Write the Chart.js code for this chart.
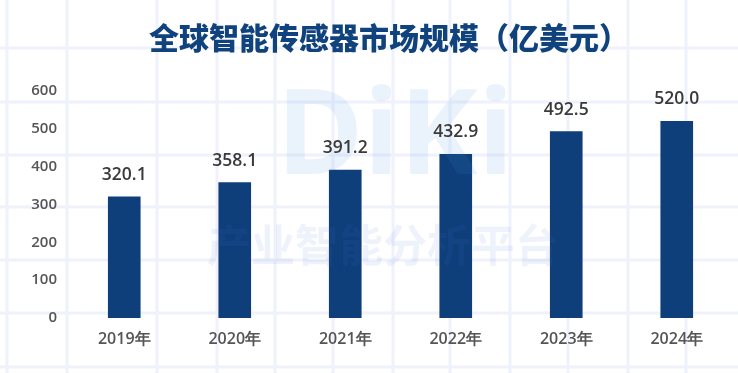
<!DOCTYPE html>
<html lang="zh">
<head>
<meta charset="utf-8">
<script src="https://cdn.jsdelivr.net/npm/chart.js@4.4.0/dist/chart.umd.min.js"></script>
<style>
    html, body { margin: 0; padding: 0; background: #ffffff; }
    #wrap { position: relative; width: 738px; height: 373px; }
</style>
</head>
<body>
<div id="wrap"><canvas id="chart" width="738" height="373"></canvas></div>
<script>
// Chart data
const years = ['2019年', '2020年', '2021年', '2022年', '2023年', '2024年'];
const marketSize = [320.1, 358.1, 391.2, 432.9, 492.5, 520.0];
const yTicks = [0, 100, 200, 300, 400, 500, 600];
const chartTitle = '全球智能传感器市场规模（亿美元）';

const barColor = '#0f3f7a';
const cjkFont = '"Noto Sans CJK SC", "Noto Sans", sans-serif';
const numFont = '"Open Sans", "Noto Sans", sans-serif';

// background paper grid (decoration only)
const gridX = [7, 67, 157, 217, 275, 333, 393, 450, 510, 568, 628, 686];
const gridY = [48, 102, 155, 207, 260, 313, 367];

const backgroundPlugin = {
    id: 'paperGrid',
    beforeDraw(chart) {
        const ctx = chart.ctx;
        ctx.save();
        ctx.fillStyle = '#ffffff';
        ctx.fillRect(0, 0, chart.width, chart.height);
        ctx.strokeStyle = '#f0f2fb';
        ctx.lineWidth = 3;
        gridX.forEach(x => {
            ctx.beginPath();
            ctx.moveTo(x, 0);
            ctx.lineTo(x, chart.height);
            ctx.stroke();
        });
        gridY.forEach(y => {
            ctx.beginPath();
            ctx.moveTo(0, y);
            ctx.lineTo(chart.width, y);
            ctx.stroke();
        });
        ctx.restore();
    }
};

const titlePlugin = {
    id: 'bigTitle',
    afterDraw(chart) {
        const ctx = chart.ctx;
        ctx.save();
        ctx.font = '900 30px ' + cjkFont;
        ctx.fillStyle = '#10427d';
        ctx.textAlign = 'center';
        ctx.textBaseline = 'middle';
        ctx.fillText(chartTitle, 389, 38);
        ctx.restore();
    }
};

const valueLabelPlugin = {
    id: 'valueLabels',
    afterDatasetsDraw(chart) {
        const ctx = chart.ctx;
        const meta = chart.getDatasetMeta(0);
        ctx.save();
        ctx.font = '600 17.5px ' + numFont;
        ctx.fillStyle = '#3a3a3a';
        ctx.textAlign = 'center';
        ctx.textBaseline = 'middle';
        meta.data.forEach((bar, i) => {
            ctx.fillText(marketSize[i].toFixed(1), bar.x, bar.y - 22);
        });
        ctx.restore();
    }
};

const watermarkPlugin = {
    id: 'watermark',
    afterDatasetsDraw(chart) {
        const ctx = chart.ctx;
        ctx.save();
        ctx.globalAlpha = 0.11;
        ctx.fillStyle = '#3f8fe0';
        ctx.textAlign = 'center';
        ctx.textBaseline = 'middle';
        ctx.font = 'bold 118px ' + numFont;
        ctx.fillText('DiKi', 395, 140);
        ctx.globalAlpha = 0.09;
        ctx.fillStyle = '#3d6fd0';
        ctx.font = 'bold 44px ' + cjkFont;
        ctx.fillText('产业智能分析平台', 383, 245);
        ctx.restore();
    }
};

new Chart(document.getElementById('chart'), {
    type: 'bar',
    data: {
        labels: years,
        datasets: [{
            data: marketSize,
            backgroundColor: barColor,
            borderWidth: 0,
            barThickness: 32
        }]
    },
    options: {
        responsive: false,
        animation: false,
        layout: { padding: { top: 91, left: 9, right: 6, bottom: 0 } },
        plugins: {
            legend: { display: false },
            title: { display: false },
            tooltip: { enabled: false }
        },
        scales: {
            x: {
                grid: { display: false, drawTicks: false },
                border: { display: false },
                ticks: {
                    color: '#555555',
                    padding: 12,
                    font: { family: numFont, size: 16, weight: '600' }
                },
                afterFit: s => { s.height = 55; }
            },
            y: {
                min: 0,
                max: 600,
                afterBuildTicks: s => { s.ticks = yTicks.map(v => ({ value: v })); },
                grid: { display: false, drawTicks: false },
                border: { display: false },
                ticks: {
                    color: '#555555',
                    padding: 12,
                    font: { family: numFont, size: 15, weight: '600' }
                },
                afterFit: s => { s.width = 60; }
            }
        }
    },
    plugins: [backgroundPlugin, watermarkPlugin, valueLabelPlugin, titlePlugin]
});
</script>
</body>
</html>
